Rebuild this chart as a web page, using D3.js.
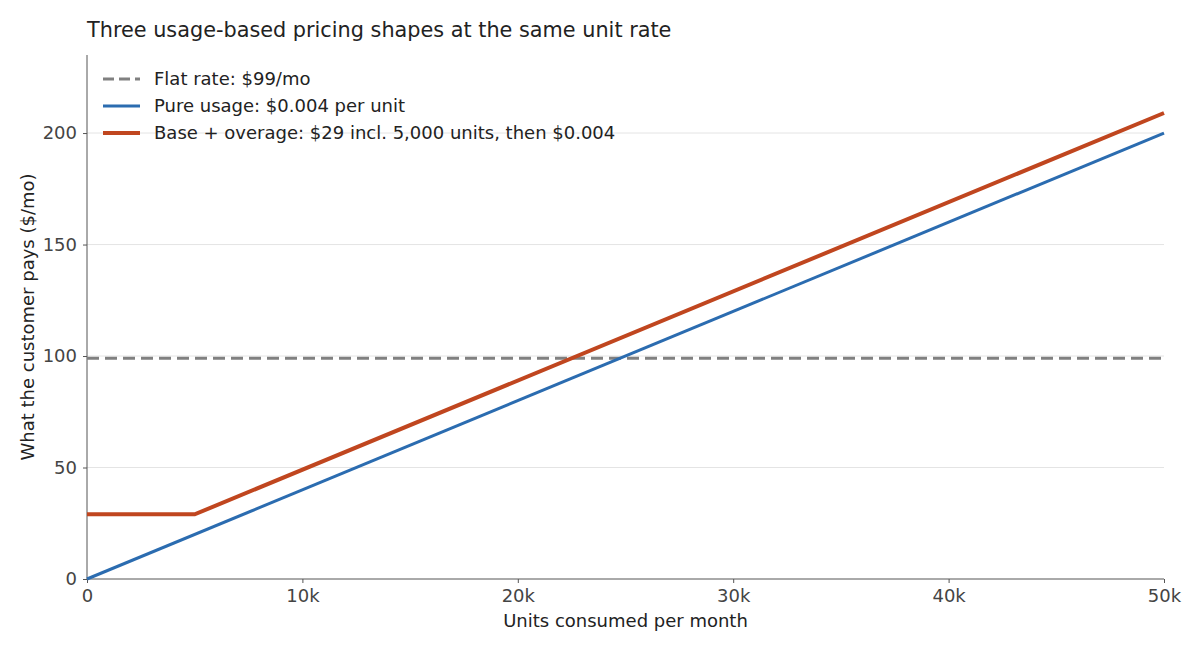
<!DOCTYPE html>
<html><head><meta charset="utf-8">
<script src="https://cdn.jsdelivr.net/npm/d3@7"></script>
<style>body{margin:0;background:#fff;font-family:"DejaVu Sans",sans-serif;}</style>
</head><body><svg id="c" width="1200" height="650"></svg>
<script>
const flatX = [0, 50000], flatY = [99, 99];
const pureX = [0, 50000], pureY = [0, 200];
const baseX = [0, 5000, 50000], baseY = [29, 29, 209];
const xTicks = [0, 10000, 20000, 30000, 40000, 50000];
const xTickLabels = ["0", "10k", "20k", "30k", "40k", "50k"];
const yTicks = [0, 50, 100, 150, 200];
const seriesNames = ["Flat rate: $99/mo", "Pure usage: $0.004 per unit", "Base + overage: $29 incl. 5,000 units, then $0.004"];

const svg = d3.select("#c");
const m = {l:87, r:36, t:55, b:71};
const W = 1200, H = 650;
const x = d3.scaleLinear().domain([0, 50000]).range([m.l, W - m.r]);
const y = d3.scaleLinear().domain([0, 235]).range([H - m.b, m.t]);

// grid
svg.append("g").selectAll("line").data(yTicks.filter(d=>d>0)).join("line")
  .attr("x1", m.l).attr("x2", W - m.r).attr("y1", d=>y(d)).attr("y2", d=>y(d))
  .attr("stroke", "#dddddd").attr("stroke-width", 0.8);

const ax = svg.append("g").attr("transform", `translate(0,${H - m.b})`)
  .call(d3.axisBottom(x).tickValues(xTicks).tickFormat((d,i)=>xTickLabels[i]).tickSize(4).tickPadding(6));
const ay = svg.append("g").attr("transform", `translate(${m.l},0)`)
  .call(d3.axisLeft(y).tickValues(yTicks).tickSize(4).tickPadding(6));
[ax, ay].forEach(a => {
  a.selectAll("path,line").attr("stroke", "#555").attr("stroke-width", 1);
  a.selectAll("text").attr("fill", "#444").attr("font-size", 18).attr("font-family", "DejaVu Sans");
});
ax.select(".domain").attr("d", `M${m.l},0H${W - m.r}`);
ay.select(".domain").attr("d", `M0,${y(0)}V${m.t}`);

const line = d3.line().x(d=>x(d[0])).y(d=>y(d[1]));
const series = [
  {xs: flatX, ys: flatY, color: "#808080", w: 3, dash: "12,6"},
  {xs: pureX, ys: pureY, color: "#2b6cb0", w: 3, dash: null},
  {xs: baseX, ys: baseY, color: "#c0461f", w: 4, dash: null}
];
series.forEach(s => {
  svg.append("path").datum(s.xs.map((v,i)=>[v, s.ys[i]]))
    .attr("d", line).attr("fill", "none").attr("stroke", s.color)
    .attr("stroke-width", s.w).attr("stroke-dasharray", s.dash);
});

// legend
const lg = svg.append("g");
series.forEach((s, i) => {
  const yy = 79 + i * 27;
  lg.append("line").attr("x1", 103).attr("x2", 140).attr("y1", yy).attr("y2", yy)
    .attr("stroke", s.color).attr("stroke-width", s.w).attr("stroke-dasharray", s.dash ? "11,5" : null);
  lg.append("text").attr("x", 154).attr("y", yy).attr("dy", "0.35em")
    .attr("font-size", 18).attr("fill", "#222").text(seriesNames[i]);
});

svg.append("text").attr("x", 87).attr("y", 37).attr("font-size", 20.8).attr("fill", "#222")
  .text("Three usage-based pricing shapes at the same unit rate");
svg.append("text").attr("x", (m.l + W - m.r)/2).attr("y", 627).attr("text-anchor", "middle")
  .attr("font-size", 18).attr("fill", "#222").text("Units consumed per month");
svg.append("text").attr("transform", `translate(34,${(m.t + H - m.b)/2}) rotate(-90)`)
  .attr("text-anchor", "middle").attr("font-size", 18).attr("fill", "#222")
  .text("What the customer pays ($/mo)");
</script></body></html>
